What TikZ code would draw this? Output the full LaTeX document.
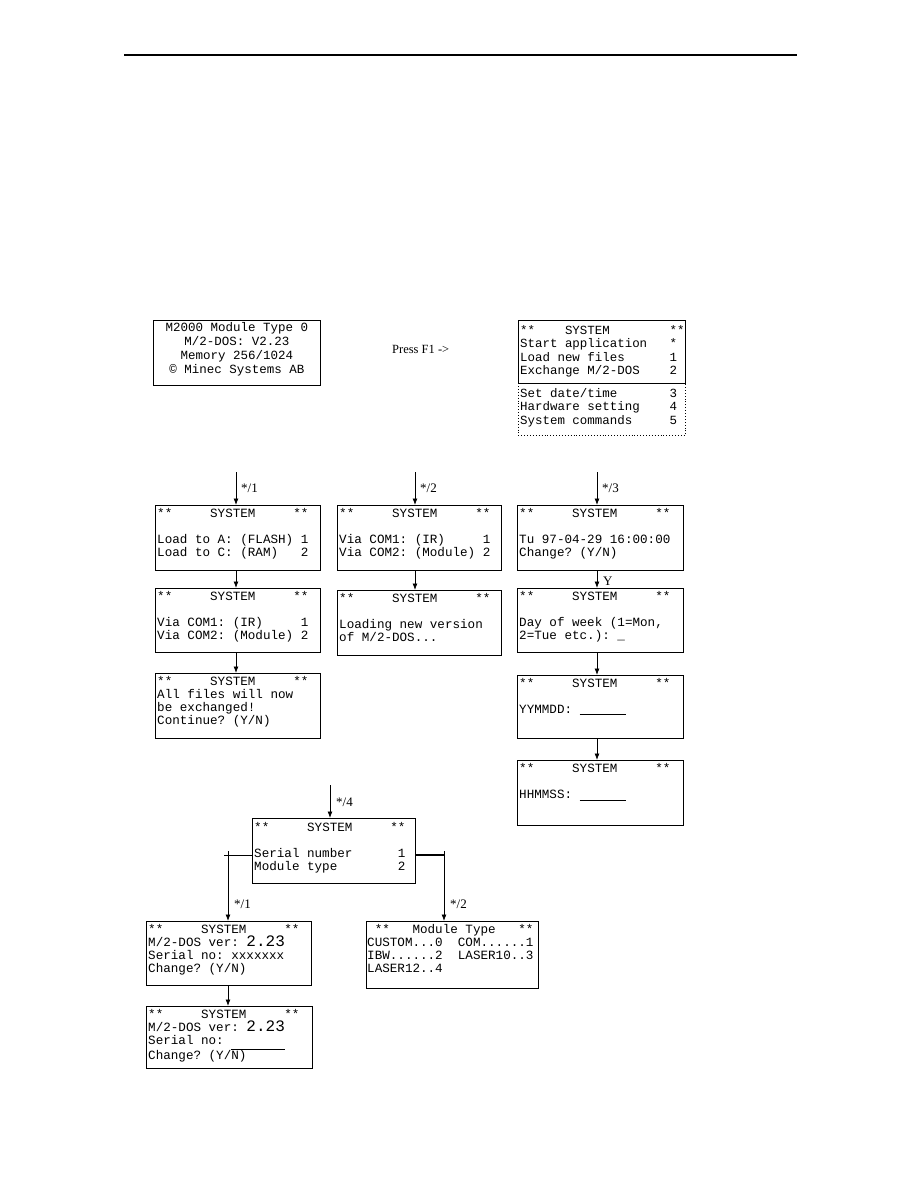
\documentclass[tikz,border=0pt]{standalone}
\usepackage{fontspec}
\setmainfont{Liberation Serif}
\newfontfamily\scrmono{Liberation Mono}[Ligatures=NoCommon]
\usetikzlibrary{arrows.meta,calc}
\newcommand{\scrfont}{\scrmono\fontsize{12.6}{13}\selectfont\frenchspacing}
\newcommand{\scrlines}[1]{\parbox[t]{200pt}{\raggedright #1}}
\newcommand{\bignum}[1]{{\fontsize{16}{13}\selectfont #1}}
\tikzset{
  scr/.style={draw, line width=0.9pt, anchor=north west, inner sep=0pt},
  txt/.style={anchor=base west, inner sep=0pt, font=\scrfont},
  lab/.style={anchor=west, inner sep=0pt, font=\fontsize{13}{14}\selectfont},
  arr/.style={line width=0.8pt, -{Latex[length=6.5pt,width=5pt]}},
}
\begin{document}
\begin{tikzpicture}[x=1pt,y=-1pt]
\useasboundingbox[fill=white] (0,0) rectangle (918,1188);
% top rule
\coordinate (r1) at (124,55);
\coordinate (r2) at (797,55);
\draw[line width=1.2pt] (r1) -- (r2);

% start screen
\node[scr, minimum width=167pt, minimum height=65pt] (m) at (153,320) {};
\node[anchor=base, inner sep=0pt, font=\scrmono\fontsize{12.5}{14}\selectfont\frenchspacing] (mt) at ($(m.north)+(0,11)$)
  {\parbox[t]{165pt}{\centering M2000 Module Type 0\\ M/2-DOS: V2.23\\ Memory 256/1024\\ \textcopyright{} Minec Systems AB}};

\node[lab, font=\fontsize{12.5}{14}\selectfont] (pf) at (392,349) {Press F1 ->};

% system menu
\node[scr, dotted, line width=0.8pt, minimum width=167pt, minimum height=52pt] (s2) at (518,383) {};
\node[scr, minimum width=167pt, minimum height=63pt] (s1) at (518,320) {};
\node[txt, font=\scrmono\fontsize{12.45}{13.5}\selectfont\frenchspacing] (s1t) at ($(s1.north west)+(2,14)$)
  {\scrlines{**~~~~SYSTEM~~~~~~~~**\\ Start application~~~*\\ Load new files~~~~~~1\\ Exchange M/2-DOS~~~~2}};
\node[txt, font=\scrmono\fontsize{12.45}{13.5}\selectfont\frenchspacing] (s2t) at ($(s2.north west)+(2,14)$)
  {\scrlines{Set date/time~~~~~~~3\\ Hardware setting~~~~4\\ System commands~~~~~5}};

% row 2
\node[scr, minimum width=165pt, minimum height=65pt] (a1) at (155,505) {};
\node[txt] (a1t) at ($(a1.north west)+(2,12.5)$)
  {\scrlines{**~~~~~SYSTEM~~~~~**\\ \mbox{}\\ Load to A: (FLASH) 1\\ Load to C: (RAM)~~~2}};
\node[scr, minimum width=164pt, minimum height=65pt] (b1) at (337,505) {};
\node[txt] (b1t) at ($(b1.north west)+(2,12.5)$)
  {\scrlines{**~~~~~SYSTEM~~~~~**\\ \mbox{}\\ Via COM1: (IR)~~~~~1\\ Via COM2: (Module) 2}};
\node[scr, minimum width=166pt, minimum height=65pt] (c1) at (517,505) {};
\node[txt] (c1t) at ($(c1.north west)+(2,12.5)$)
  {\scrlines{**~~~~~SYSTEM~~~~~**\\ \mbox{}\\ Tu 97-04-29 16:00:00\\ Change? (Y/N)}};

% row 3
\node[scr, minimum width=165pt, minimum height=64pt] (a2) at (155,588) {};
\node[txt] (a2t) at ($(a2.north west)+(2,12.5)$)
  {\scrlines{**~~~~~SYSTEM~~~~~**\\ \mbox{}\\ Via COM1: (IR)~~~~~1\\ Via COM2: (Module) 2}};
\node[scr, minimum width=164pt, minimum height=65pt] (b2) at (337,590) {};
\node[txt] (b2t) at ($(b2.north west)+(2,12.5)$)
  {\scrlines{**~~~~~SYSTEM~~~~~**\\ \mbox{}\\ Loading new version\\ of M/2-DOS...}};
\node[scr, minimum width=166pt, minimum height=64pt] (c2) at (517,588) {};
\node[txt] (c2t) at ($(c2.north west)+(2,12.5)$)
  {\scrlines{**~~~~~SYSTEM~~~~~**\\ \mbox{}\\ Day of week (1=Mon,\\ 2=Tue etc.): \_}};

% row 4
\node[scr, minimum width=165pt, minimum height=65pt] (a3) at (155,673) {};
\node[txt] (a3t) at ($(a3.north west)+(2,12.5)$)
  {\scrlines{**~~~~~SYSTEM~~~~~**\\ All files will now\\ be exchanged!\\ Continue? (Y/N)}};
\node[scr, minimum width=166pt, minimum height=63pt] (c3) at (517,675) {};
\node[txt] (c3t) at ($(c3.north west)+(2,12.5)$)
  {\scrlines{**~~~~~SYSTEM~~~~~**\\ \mbox{}\\ YYMMDD: \rule[-1pt]{46pt}{0.7pt}}};
\node[scr, minimum width=166pt, minimum height=65pt] (c4) at (517,760) {};
\node[txt] (c4t) at ($(c4.north west)+(2,12.5)$)
  {\scrlines{**~~~~~SYSTEM~~~~~**\\ \mbox{}\\ HHMMSS: \rule[-2pt]{46pt}{0.7pt}}};

% system commands
\node[scr, minimum width=163pt, minimum height=65pt] (d) at (252,818) {};
\node[txt] (dt) at ($(d.north west)+(2,13)$)
  {\scrlines{**~~~~~SYSTEM~~~~~**\\ \mbox{}\\ Serial number~~~~~~1\\ Module type~~~~~~~~2}};

\node[scr, minimum width=165pt, minimum height=64pt] (e) at (146,921) {};
\node[txt] (et) at ($(e.north west)+(2,12.5)$)
  {\scrlines{**~~~~~SYSTEM~~~~~**\\ M/2-DOS ver: \bignum{2.23}\\ Serial no: xxxxxxx\\ Change? (Y/N)}};
\node[scr, minimum width=172pt, minimum height=67pt] (f) at (366,921) {};
\node[txt] (ft) at ($(f.north west)+(1,12.5)$)
  {\scrlines{~**~~~Module Type~~~**\\ CUSTOM...0~~COM......1\\ IBW......2~~LASER10..3\\ LASER12..4}};
\node[scr, minimum width=166pt, minimum height=62pt] (g) at (146,1006) {};
\node[txt] (gt) at ($(g.north west)+(2,12.5)$)
  {\scrlines{**~~~~~SYSTEM~~~~~**\\ M/2-DOS ver: \bignum{2.23}\\ Serial no: \rule[-5pt]{54pt}{0.7pt}\\ Change? (Y/N)}};

% connectors
\coordinate (k1) at (236,472);
\coordinate (k2) at (415,472);
\coordinate (k3) at (597,472);
\coordinate (k4) at (330,785);
\coordinate (bl) at (228,855);
\coordinate (br) at (444,855);
\draw[arr] (k1) -- (k1 |- a1.north);
\draw[arr] (k2) -- (k2 |- b1.north);
\draw[arr] (k3) -- (k3 |- c1.north);
\node[lab] (l1) at (241,488) {*/1};
\node[lab] (l2) at (420,488) {*/2};
\node[lab] (l3) at (602,488) {*/3};
\draw[arr] (a1.south -| k1) -- (a2.north -| k1);
\draw[arr] (a2.south -| k1) -- (a3.north -| k1);
\draw[arr] (b1.south -| k2) -- (b2.north -| k2);
\draw[arr] (c1.south -| k3) -- (c2.north -| k3);
\node[lab] (ly) at (603,581) {Y};
\draw[arr] (c2.south -| k3) -- (c3.north -| k3);
\draw[arr] (c3.south -| k3) -- (c4.north -| k3);
\draw[arr] (k4) -- (k4 |- d.north);
\node[lab] (l4) at (336,802) {*/4};
\draw[line width=0.8pt] (d.west |- bl) -- ($(bl)+(-4,0)$);
\draw[arr] ($(bl)+(0,-4)$) -- (bl |- e.north);
\node[lab] (l5) at (234,904) {*/1};
\draw[line width=1.4pt] (d.east |- br) -- (br);
\draw[arr] ($(br)+(0,-4)$) -- (br |- f.north);
\node[lab] (l6) at (450,904) {*/2};
\draw[arr] (e.south -| bl) -- (g.north -| bl);
\end{tikzpicture}
\end{document}
